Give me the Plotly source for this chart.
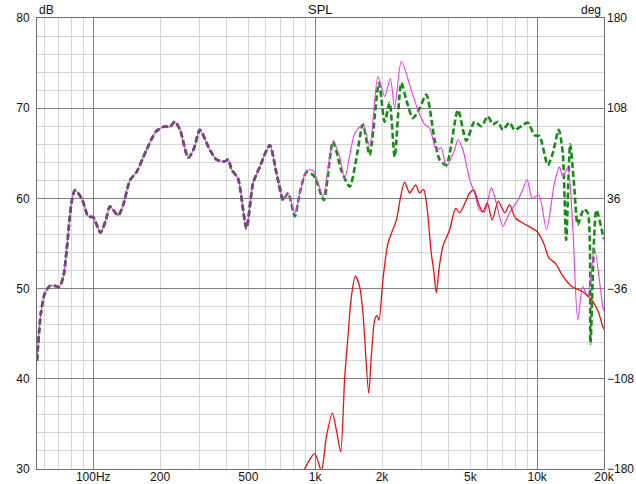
import math
import plotly.graph_objects as go

# ---------------- data ----------------
# common low-frequency part shared by magenta and green curves
common_f = [55.8, 58.1, 60.6, 63.8, 67.2, 70.3, 73.3, 75.9, 79.9, 82.7, 88.7, 95, 100, 107.7,
            114, 118.9, 129.6, 136.5, 146.3, 157.3, 173.9, 191.5, 210, 221, 233, 246, 268,
            285, 302, 335, 359, 391, 405, 420, 449, 490, 525, 563, 624, 669, 716]
common_db = [42.0, 47.3, 49.5, 50.3, 50.3, 50.2, 51.3, 54.3, 59.6, 60.9, 60.0, 58.0, 57.9, 56.2,
             57.6, 59.1, 58.1, 59.3, 62.0, 63.0, 65.4, 67.4, 68.0, 67.9, 68.5, 67.6, 64.5,
             65.6, 67.6, 65.4, 64.3, 64.1, 64.3, 63.2, 62.2, 56.7, 61.7, 63.5, 65.9, 62.8, 59.8]

magenta_f = [755, 809, 852, 913, 977, 1012, 1084, 1203, 1289, 1358, 1506, 1641, 1759, 1917,
             2055, 2180, 2280, 2443, 2709, 2901, 3110, 3276, 3512, 3698, 3895, 4245, 4393,
             4627, 4959, 5223, 5501, 5792, 6209, 6539, 7000, 7506, 8180, 8615, 9016, 9495,
             10170, 11020, 11960, 12600, 13040, 13730, 14460, 15230, 16040, 16900, 18110,
             19740, 20000]
magenta_db = [60.6, 58.3, 60.6, 63.1, 63.1, 62.3, 60.2, 66.3, 64.6, 62.2, 67.2, 68.2, 65.8, 73.5,
              71.3, 73.3, 70.0, 75.2, 72.0, 69.8, 68.2, 67.8, 65.4, 65.6, 63.5, 65.4, 66.5,
              65.4, 62.1, 60.6, 58.7, 58.5, 61.2, 59.5, 56.9, 58.4, 59.8, 61.0, 62.1, 60.0,
              60.4, 56.5, 61.7, 63.5, 62.4, 63.4, 56.9, 46.5, 50.2, 49.1, 54.5,
              48.0, 47.5]

green_f = [755, 809, 852, 913, 977, 1012, 1092, 1203, 1316, 1430, 1522, 1641, 1759, 1937,
           2055, 2164, 2280, 2443, 2581, 2755, 2953, 3166, 3450, 3634, 3895, 4393, 4793,
           5223, 5598, 5994, 6312, 6648, 7000, 7506, 7905, 8473, 9073, 9725, 10240, 11160,
           11750, 12510, 13040, 13510, 14080, 14720, 15230, 16210, 16900, 17380, 18490,
           19880, 20000]
green_db = [60.6, 58.0, 60.6, 62.9, 62.6, 62.0, 59.8, 66.3, 63.0, 61.3, 64.0, 68.2, 64.8, 72.8,
            68.5, 70.6, 64.6, 72.8, 70.8, 68.9, 70.0, 71.5, 66.5, 64.3, 63.7, 69.8, 66.4,
            68.5, 68.0, 69.1, 68.2, 68.5, 67.6, 68.4, 67.6, 68.0, 68.4, 67.0, 66.9, 63.7,
            65.0, 67.6, 65.0, 55.4, 66.0, 61.0, 57.1, 58.8, 58.4, 43.9, 58.7,
            55.7, 55.5]

red_f = [870, 897, 995, 1066, 1123, 1195, 1246, 1302, 1358, 1405, 1455, 1517, 1586, 1641,
         1741, 1790, 1852, 1897, 1937, 2019, 2126, 2320, 2426, 2528, 2663, 2833, 2953, 3078,
         3186, 3334, 3414, 3512, 3608, 3761, 4030, 4289, 4471, 4793, 4959, 5186, 5462, 5692,
         5957, 6273, 6676, 7147, 7506, 7988, 8858, 10000, 10710, 11280, 12090, 12960, 14370,
         15940, 17680, 18930, 19740, 20000]
red_db = [28.0, 30.0, 31.7, 29.8, 33.6, 36.2, 34.3, 31.9, 40.2, 44.7, 49.1, 51.4, 50.2, 47.3,
          38.4, 42.5, 46.5, 47.0, 46.5, 51.0, 55.0, 57.6, 60.2, 61.8, 60.6, 61.5, 60.6, 61.0,
          59.1, 53.9, 52.1, 49.5, 52.1, 54.7, 56.5, 58.9, 58.4, 59.8, 60.6, 60.9, 59.3, 58.5,
          59.5, 57.6, 59.7, 58.4, 59.3, 57.8, 57.1, 56.3, 55.0, 53.4, 52.8, 51.5, 50.2,
          49.7, 48.7, 47.3, 45.8, 45.5]

x_tick_vals = [100, 200, 500, 1000, 2000, 5000, 10000, 20000]
x_tick_text = ["100Hz", "200", "500", "1k", "2k", "5k", "10k", "20k"]
x_major_grid = [100, 1000, 10000]
x_minor_grid = [60, 70, 80, 90, 200, 300, 400, 500, 600, 700, 800, 900,
                2000, 3000, 4000, 5000, 6000, 7000, 8000, 9000]
deg_ticks = [-180, -108, -36, 36, 108, 180]

F_MIN, F_MAX = 55.8, 20000
DB_MIN, DB_MAX = 30, 80

# ---------------- figure ----------------
MAGENTA = "#e63ce6"
GREEN = "#178a17"
BLEND = "#74487a"   # look of the green dashes where they lie on the magenta line
RED = "#ee1010"
FONT = "Liberation Sans, Arial, sans-serif"
DASH = "6px,3px"
SPL = dict(shape="spline", smoothing=0.7)

fig = go.Figure()
fig.add_trace(go.Scatter(x=common_f + green_f, y=common_db + green_db, mode="lines",
                         line=dict(color=GREEN, width=2.6, dash=DASH, **SPL),
                         hoverinfo="skip", showlegend=False))
fig.add_trace(go.Scatter(x=common_f + magenta_f, y=common_db + magenta_db, mode="lines",
                         line=dict(color=MAGENTA, width=1.1, **SPL),
                         hoverinfo="skip", showlegend=False))
fig.add_trace(go.Scatter(x=common_f, y=common_db, mode="lines",
                         line=dict(color=BLEND, width=2.6, dash=DASH, **SPL),
                         hoverinfo="skip", showlegend=False))
fig.add_trace(go.Scatter(x=red_f, y=red_db, mode="lines",
                         line=dict(color=RED, width=1.3, **SPL),
                         hoverinfo="skip", showlegend=False))

xr = [math.log10(F_MIN), math.log10(F_MAX)]
fig.update_layout(
    width=636, height=484,
    margin=dict(l=37, r=32, t=18, b=15, autoexpand=False),
    paper_bgcolor="white", plot_bgcolor="white",
    font=dict(family=FONT, size=12, color="#111111"),
    xaxis=dict(type="log", range=xr, tickvals=x_tick_vals, ticktext=x_tick_text,
               showgrid=False, zeroline=False, ticks="", ticklabelstandoff=-3,
               tickfont=dict(size=12),
               showline=True, mirror=True, linecolor="#6e6e6e", linewidth=1,
               minor=dict(tickvals=x_minor_grid, showgrid=True, gridcolor="#d6d6d6", gridwidth=1, ticks="")),
    xaxis2=dict(type="log", range=xr, overlaying="x", anchor="y", tickvals=x_major_grid,
                showticklabels=False, showgrid=True, gridcolor="#808080", gridwidth=1, ticks="",
                zeroline=False),
    yaxis=dict(range=[DB_MIN, DB_MAX], dtick=10, showgrid=True, gridcolor="#808080", gridwidth=1,
               zeroline=False, ticks="", ticklabelstandoff=4,
               showline=True, mirror=True, linecolor="#6e6e6e", linewidth=1,
               minor=dict(dtick=2, showgrid=True, gridcolor="#d6d6d6", gridwidth=1, ticks="")),
    yaxis2=dict(range=[-180, 180], tickvals=deg_ticks, overlaying="y", side="right", anchor="x",
                showgrid=False, zeroline=False, ticks="", ticklabelstandoff=2),
    annotations=[
        dict(text="SPL", x=0.5, y=1, xref="paper", yref="paper", xanchor="center", yanchor="bottom",
             showarrow=False, font=dict(size=13), yshift=-1),
        dict(text="dB", x=0, y=1, xref="paper", yref="paper", xanchor="left", yanchor="bottom",
             showarrow=False, font=dict(size=12), xshift=0, yshift=-1),
        dict(text="deg", x=1, y=1, xref="paper", yref="paper", xanchor="right", yanchor="bottom",
             showarrow=False, font=dict(size=12), xshift=-1, yshift=-1),
    ],
)
# invisible helper so the overlay axes are drawn
fig.add_trace(go.Scatter(x=[F_MIN], y=[0], xaxis="x2", yaxis="y2", mode="markers",
                         marker=dict(opacity=0), hoverinfo="skip", showlegend=False))

# remove the default 8px page margin so the figure sits at the window's corner
fig.write_html("out.html", config={"displayModeBar": False},
               post_script="document.body.style.margin='0';document.body.style.overflow='hidden';")
